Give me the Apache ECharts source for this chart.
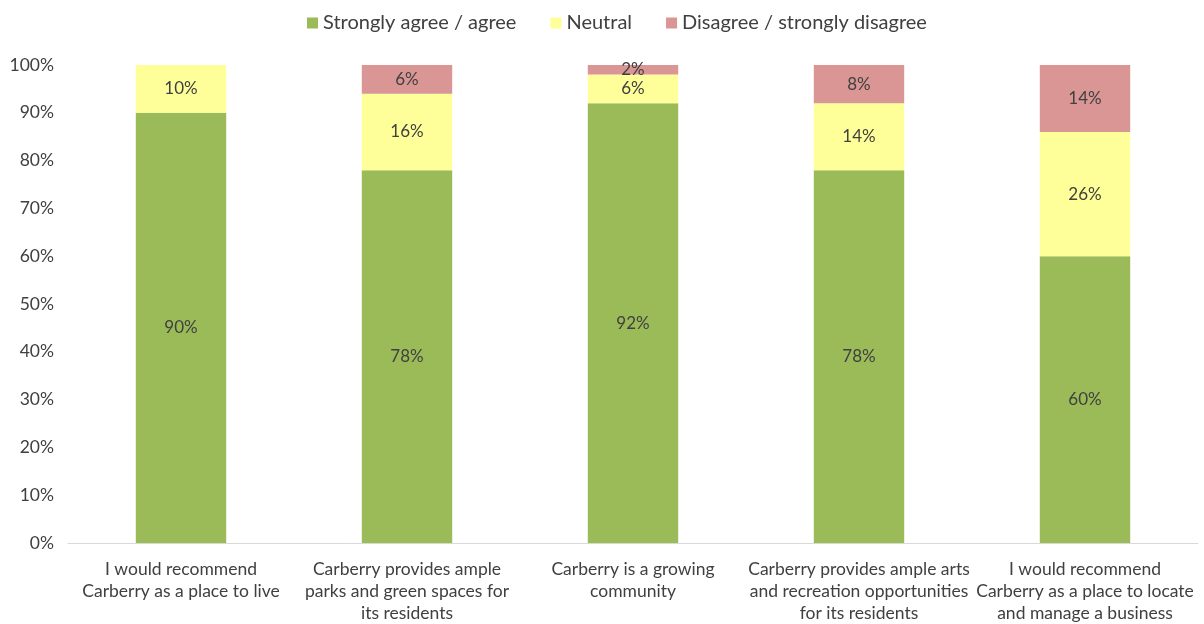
<!DOCTYPE html>
<html>
<head>
<meta charset="utf-8">
<script src="https://cdn.jsdelivr.net/npm/echarts@6/dist/echarts.min.js"></script>
<style>
  html, body { margin: 0; padding: 0; background: #fff; }
  #chart { width: 1204px; height: 624px; }
</style>
</head>
<body>
<div id="chart"></div>
<script>
// Survey statements (x axis)
const categories = [
  'I would recommend\nCarberry as a place to live',
  'Carberry provides ample\nparks and green spaces for\nits residents',
  'Carberry is a growing\ncommunity',
  'Carberry provides ample arts\nand recreation opportunities\nfor its residents',
  'I would recommend\nCarberry as a place to locate\nand manage a business'
];
// Share of responses, percent
const agree    = [90, 78, 92, 78, 60];
const neutral  = [10, 16, 6, 14, 26];
const disagree = [0, 6, 2, 8, 14];
const seriesNames = ['Strongly agree / agree', 'Neutral', 'Disagree / strongly disagree'];
const colors = ['#9BBB59', '#FFFF99', '#D99694'];

const FONT = 'Lato';
const TEXT = '#404040';

function barSeries(name, data, color) {
  return {
    name: name,
    type: 'bar',
    stack: 'total',
    barWidth: '40%',
    data: data,
    itemStyle: { color: color },
    label: {
      show: true,
      position: 'inside',
      color: TEXT,
      fontFamily: FONT,
      fontSize: 17,
      formatter: p => (p.value > 0 ? p.value + '%' : '')
    }
  };
}

const chart = echarts.init(document.getElementById('chart'));
chart.setOption({
  animation: false,
  color: colors,
  legend: {
    top: 8,
    left: 302,
    itemWidth: 11,
    itemHeight: 11,
    itemGap: 34,
    icon: 'rect',
    textStyle: { color: TEXT, fontFamily: FONT, fontSize: 20 },
    data: seriesNames
  },
  grid: { left: 68, right: 6, top: 65, bottom: 81, containLabel: false },
  xAxis: {
    type: 'category',
    data: categories,
    axisLine: { lineStyle: { color: '#D9D9D9', width: 1 } },
    axisTick: { show: false },
    axisLabel: {
      color: TEXT,
      fontFamily: FONT,
      fontSize: 17.5,
      lineHeight: 22,
      margin: 15,
      interval: 0
    }
  },
  yAxis: {
    type: 'value',
    min: 0,
    max: 100,
    interval: 10,
    axisLine: { show: false },
    axisTick: { show: false },
    splitLine: { show: false },
    axisLabel: {
      color: TEXT,
      fontFamily: FONT,
      fontSize: 17.5,
      margin: 14,
      formatter: v => v + '%'
    }
  },
  series: [
    barSeries(seriesNames[0], agree, colors[0]),
    barSeries(seriesNames[1], neutral, colors[1]),
    barSeries(seriesNames[2], disagree, colors[2])
  ]
});
</script>
</body>
</html>
